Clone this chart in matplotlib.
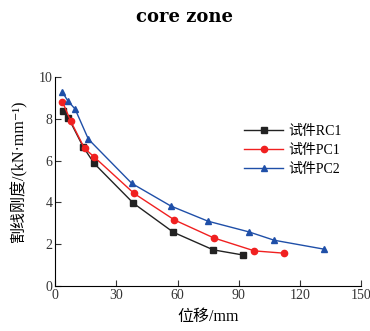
import matplotlib
matplotlib.use('Agg')
import matplotlib.pyplot as plt

plt.rcParams['font.family'] = ['Liberation Serif', 'Noto Sans CJK SC', 'DejaVu Sans']

# 试件RC1
rc1_x = [3.9, 6.5, 13.7, 19.1, 38.4, 58.0, 77.5, 92.3]
rc1_y = [8.36, 8.05, 6.67, 5.87, 3.96, 2.57, 1.73, 1.48]
# 试件PC1
pc1_x = [3.6, 7.7, 14.4, 19.0, 38.7, 58.5, 77.8, 97.7, 112.3]
pc1_y = [8.82, 7.88, 6.59, 6.19, 4.43, 3.16, 2.30, 1.68, 1.57]
# 试件PC2
pc2_x = [3.6, 6.2, 9.8, 16.3, 37.6, 56.7, 75.0, 95.0, 107.4, 132.0]
pc2_y = [9.27, 8.87, 8.47, 7.03, 4.91, 3.83, 3.10, 2.59, 2.19, 1.76]

labels = ['试件RC1', '试件PC1', '试件PC2']

fig = plt.figure(figsize=(3.7, 3.31), dpi=100)
ax = fig.add_axes([0.149, 0.136, 0.827, 0.631])

ax.plot(rc1_x, rc1_y, color='#222222', marker='s', markersize=4, lw=1.0, label=labels[0])
ax.plot(pc1_x, pc1_y, color='#f02020', marker='o', markersize=4.5, lw=1.0, label=labels[1])
ax.plot(pc2_x, pc2_y, color='#1f4fa8', marker='^', markersize=5, lw=1.0, label=labels[2])

ax.set_xlim(0, 150)
ax.set_ylim(0, 10)
ax.set_xticks([0, 30, 60, 90, 120, 150])
ax.set_yticks([0, 2, 4, 6, 8, 10])
ax.spines['top'].set_visible(False)
ax.spines['right'].set_visible(False)
ax.tick_params(direction='in', length=4, labelsize=10, colors='#333333', pad=2)
ax.set_xlabel('位移/mm', fontsize=11.5, labelpad=5)
ax.set_ylabel('割线刚度/(kN·mm⁻¹)', fontsize=11.5)
ax.yaxis.set_label_coords(-0.09, 0.55)

ax.legend(loc='upper left', bbox_to_anchor=(0.6, 0.80), frameon=False,
          fontsize=10, handlelength=2.8, handletextpad=0.35,
          labelspacing=0.45, borderaxespad=0)

fig.suptitle('core zone', x=0.5, y=0.975, fontsize=13, fontweight='bold',
             family=['DejaVu Serif'])

fig.savefig('out.png', dpi=100)
